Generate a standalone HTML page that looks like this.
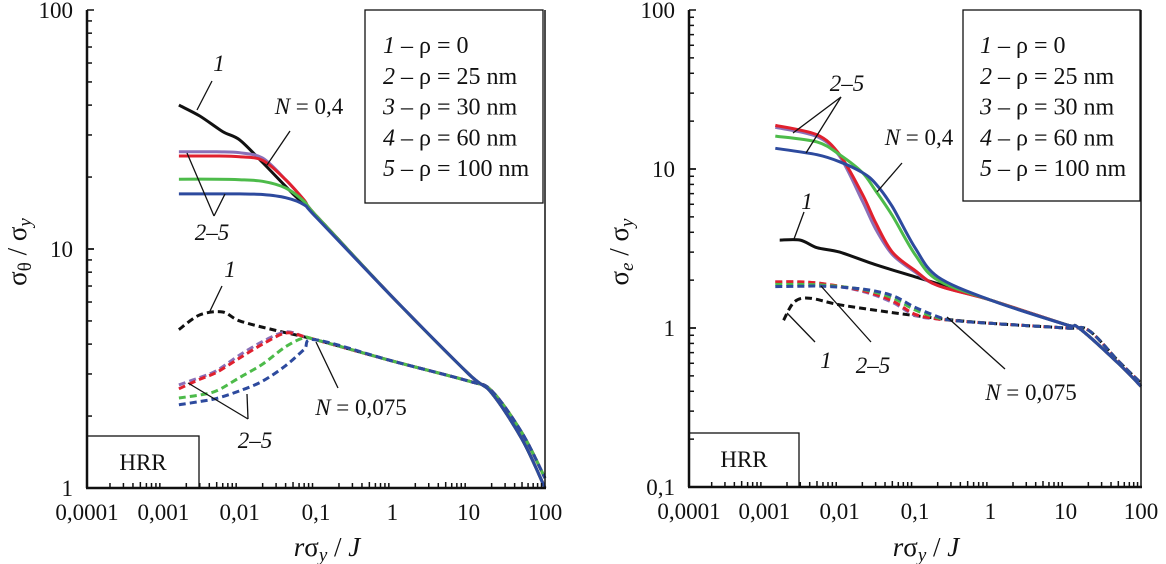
<!DOCTYPE html>
<html><head><meta charset="utf-8">
<style>
html,body{margin:0;padding:0;background:#fff;}
svg{display:block;font-family:"Liberation Serif",serif;}
</style></head>
<body>
<svg id="fig" width="1166" height="564" viewBox="0 0 1166 564" xmlns="http://www.w3.org/2000/svg"></svg>
<script>
// ---------- data: left chart (sigma_theta / sigma_y) ----------
const L_x_solid1 = [0.0016, 0.003, 0.006, 0.01, 0.02, 0.05, 0.1, 1, 10, 20, 50, 100];
const L_y_solid1 = [40, 36, 31, 28.6, 23, 17, 13.8, 6.3, 3.0, 2.5, 1.6, 1.0];
const L_x_solidC = [0.0016, 0.005, 0.01, 0.02, 0.04, 0.07, 0.1, 1, 10, 20, 50, 100];
const L_y_solid2 = [25.5, 25.5, 25.3, 24, 19.5, 16, 13.8, 6.3, 3.0, 2.5, 1.6, 1.0];
const L_y_solid3 = [24.5, 24.5, 24.3, 23.5, 19.5, 16, 13.8, 6.3, 3.0, 2.5, 1.6, 1.0];
const L_y_solid4 = [19.6, 19.6, 19.5, 19.2, 18, 15.8, 13.8, 6.3, 3.0, 2.5, 1.6, 1.0];
const L_y_solid5 = [17, 17, 17, 16.9, 16.4, 15.3, 13.6, 6.3, 3.0, 2.5, 1.6, 1.0];
const L_x_dash1 = [0.0016, 0.003, 0.006, 0.01, 0.03, 0.1, 1, 10, 20, 50, 100];
const L_y_dash1 = [4.6, 5.3, 5.45, 5.0, 4.56, 4.17, 3.4, 2.8, 2.55, 1.7, 1.1];
const L_x_dashC = [0.0016, 0.003, 0.005, 0.01, 0.02, 0.04, 0.07, 0.1, 1, 10, 20, 50, 100];
const L_y_dash2 = [2.7, 2.9, 3.1, 3.6, 4.1, 4.5, 4.3, 4.17, 3.4, 2.8, 2.55, 1.7, 1.1];
const L_y_dash3 = [2.6, 2.85, 3.05, 3.5, 4.0, 4.45, 4.3, 4.17, 3.4, 2.8, 2.55, 1.7, 1.1];
const L_y_dash4 = [2.38, 2.45, 2.55, 2.9, 3.3, 3.9, 4.25, 4.17, 3.4, 2.8, 2.55, 1.7, 1.1];
const L_y_dash5 = [2.23, 2.3, 2.37, 2.55, 2.8, 3.25, 3.8, 4.17, 3.4, 2.8, 2.55, 1.7, 1.1];
// ---------- data: right chart (sigma_e / sigma_y) ----------
const R_x_solid1 = [0.0016, 0.003, 0.005, 0.01, 0.03, 0.1, 0.2, 1, 10, 15, 50, 100];
const R_y_solid1 = [3.57, 3.57, 3.2, 3.0, 2.5, 2.1, 1.9, 1.5, 1.05, 1.0, 0.6, 0.43];
const R_x_solidC = [0.0014, 0.005, 0.01, 0.02, 0.03, 0.05, 0.1, 0.2, 1, 10, 15, 50, 100];
const R_y_solid2 = [18.3, 16, 12, 6.3, 4.2, 2.9, 2.25, 1.85, 1.5, 1.05, 1.0, 0.6, 0.43];
const R_y_solid3 = [18.8, 16.4, 12.3, 6.95, 4.6, 3.0, 2.3, 1.85, 1.5, 1.05, 1.0, 0.6, 0.43];
const R_y_solid4 = [16.1, 14.8, 12.3, 9.5, 7.3, 5.1, 2.9, 2.0, 1.5, 1.05, 1.0, 0.6, 0.43];
const R_y_solid5 = [13.5, 12.3, 11.1, 9.5, 8.1, 5.8, 3.2, 2.1, 1.5, 1.05, 1.0, 0.6, 0.43];
const R_x_dash1 = [0.0018, 0.0025, 0.004, 0.01, 0.05, 0.2, 1, 10, 20, 50, 100];
const R_y_dash1 = [1.12, 1.46, 1.54, 1.4, 1.25, 1.15, 1.07, 1.0, 0.97, 0.62, 0.45];
const R_x_dashC = [0.0014, 0.003, 0.006, 0.02, 0.05, 0.1, 0.2, 0.3, 1, 10, 20, 50, 100];
const R_y_dash2 = [1.95, 1.95, 1.9, 1.7, 1.45, 1.2, 1.14, 1.12, 1.07, 1.0, 0.97, 0.62, 0.45];
const R_y_dash3 = [1.95, 1.95, 1.9, 1.72, 1.48, 1.22, 1.14, 1.12, 1.07, 1.0, 0.97, 0.62, 0.45];
const R_y_dash4 = [1.88, 1.88, 1.86, 1.75, 1.55, 1.3, 1.16, 1.12, 1.07, 1.0, 0.97, 0.62, 0.45];
const R_y_dash5 = [1.82, 1.83, 1.83, 1.76, 1.6, 1.35, 1.18, 1.12, 1.07, 1.0, 0.97, 0.62, 0.45];
// ---------- ticks / labels ----------
const xTickVals = [0.0001, 0.001, 0.01, 0.1, 1, 10, 100];
const xTickLabels = ["0,0001", "0,001", "0,01", "0,1", "1", "10", "100"];
const L_yTickVals = [1, 10, 100];
const L_yTickLabels = ["1", "10", "100"];
const R_yTickVals = [0.1, 1, 10, 100];
const R_yTickLabels = ["0,1", "1", "10", "100"];
const legendNums = ["1", "2", "3", "4", "5"];
const legendTexts = [" – ρ = 0", " – ρ = 25 nm", " – ρ = 30 nm", " – ρ = 60 nm", " – ρ = 100 nm"];

const C = {k:"#111111", r:"#e0202e", g:"#4dbb4a", b:"#2d4a9e", p:"#8a70b8"};
const FS = 23;
const NS = "http://www.w3.org/2000/svg";
const svg = document.getElementById('fig');
function mk(tag, attrs, parent){
  const e = document.createElementNS(NS, tag);
  for (const k in attrs) e.setAttribute(k, attrs[k]);
  (parent||svg).appendChild(e);
  return e;
}
function makeAxes(x0, x1, xmin, xmax, yTop, yBot, ymin, ymax){
  const lx0=Math.log10(xmin), lx1=Math.log10(xmax), ly0=Math.log10(ymin), ly1=Math.log10(ymax);
  return {
    X: v => x0 + (Math.log10(v)-lx0)/(lx1-lx0)*(x1-x0),
    Y: v => yBot - (Math.log10(v)-ly0)/(ly1-ly0)*(yBot-yTop)
  };
}
function path(g, ax, xs, ys, color, dashed, name){
  const P = xs.map((x,i)=>[ax.X(x), ax.Y(ys[i])]);
  let d = "M" + P[0][0].toFixed(1) + "," + P[0][1].toFixed(1);
  for (let i=0;i<P.length-1;i++){
    const p0 = P[Math.max(0,i-1)], p1 = P[i], p2 = P[i+1], p3 = P[Math.min(P.length-1,i+2)];
    const t = 0.16;
    const c1 = [p1[0]+(p2[0]-p0[0])*t, p1[1]+(p2[1]-p0[1])*t];
    const c2 = [p2[0]-(p3[0]-p1[0])*t, p2[1]-(p3[1]-p1[1])*t];
    d += "C"+c1[0].toFixed(1)+","+c1[1].toFixed(1)+" "+c2[0].toFixed(1)+","+c2[1].toFixed(1)+" "+p2[0].toFixed(1)+","+p2[1].toFixed(1);
  }
  const p = mk('path', {d:d, fill:"none", stroke:color, "stroke-width":3, "stroke-linejoin":"round", "stroke-linecap":"butt"}, g);
  if (dashed) p.setAttribute('stroke-dasharray', '7,4');
  
  
}
function text(g, x, y, s, opts){
  const t = mk('text', Object.assign({x:x, y:y, "font-size":FS, fill:"#111"}, opts||{}), g);
  t.textContent = s;
  return t;
}
function line(g, x1,y1,x2,y2, w){
  mk('line', {x1:x1,y1:y1,x2:x2,y2:y2, stroke:"#111", "stroke-width":w||1.3}, g);
}

function drawChart(cfg){
  const g = mk('g', {});
  
  
  const ax = makeAxes(cfg.x0, cfg.x1, 0.0001, 100, cfg.yTop, cfg.yBot, cfg.ymin, cfg.ymax);
  cfg.series.forEach(s => path(g, ax, s[0], s[1], s[2], s[3], s[4]));
  line(g, cfg.x0, cfg.yTop, cfg.x0, cfg.yBot, 2.5);
  line(g, cfg.x0-1, cfg.yBot, cfg.x1+1, cfg.yBot, 2.5);
  line(g, cfg.x1, cfg.yTop, cfg.x1, cfg.yBot, 1.5);
  for (let e=-4;e<=2;e++){
    for (let m=1;m<10;m++){
      const v = m*Math.pow(10,e); if (v>100) break;
      const x = ax.X(v), len = m===1?0:(m===5?6:5);
      if (len) line(g, x, cfg.yBot, x, cfg.yBot-len, 1.5);
    }
  }
  xTickVals.forEach((v,i)=>{
    const t = text(g, ax.X(v), cfg.yBot+32, xTickLabels[i], {"text-anchor":"middle"});
    
    
  });
  for (let e=Math.round(Math.log10(cfg.ymin)); e<Math.round(Math.log10(cfg.ymax)); e++){
    for (let m=1;m<=10;m++){
      const v = m*Math.pow(10,e), y = ax.Y(v);
      line(g, cfg.x0, y, cfg.x0+(m===1||m===10?7:5), y, 1.5);
    }
  }
  cfg.yTickVals.forEach((v,i)=>{
    const t = text(g, cfg.x0-14, ax.Y(v)+8, cfg.yTickLabels[i], {"text-anchor":"end"});
    
    
  });
  const lb = mk('rect', {x:cfg.lg[0], y:cfg.lg[1], width:cfg.lg[2]-cfg.lg[0], height:cfg.lg[3]-cfg.lg[1], fill:"#fff", stroke:"#111", "stroke-width":1.3}, g);
  
  
  legendNums.forEach((n,i)=>{
    const t = mk('text', {x:cfg.lgTextX, y:53+i*30.8, "font-size":FS+1, fill:"#111"}, g);
    
    
    const a = mk('tspan', {"font-style":"italic"}, t); a.textContent = n;
    const b = mk('tspan', {}, t); b.textContent = legendTexts[i];
  });
  mk('rect', {x:cfg.x0, y:cfg.hrr[1], width:cfg.hrr[0]-cfg.x0, height:cfg.yBot-cfg.hrr[1], fill:"none", stroke:"#111", "stroke-width":1.3}, g);
  const h = text(g, (cfg.x0+cfg.hrr[0])/2, cfg.hrr[1]+34, "HRR", {"text-anchor":"middle"});
  
  
  cfg.ann.forEach(a=>{
    const t = mk('text', {x:a[0], y:a[1], "font-size":FS, fill:"#111", "text-anchor":"middle"}, g);
    
    
    if (a[2].startsWith("N")){
      const s1 = mk('tspan', {"font-style":"italic"}, t); s1.textContent = "N";
      const s2 = mk('tspan', {}, t); s2.textContent = a[2].slice(1);
    } else { mk('tspan', {"font-style":"italic"}, t).textContent = a[2]; }
    a[3].forEach(l => line(g, l[0], l[1], l[2], l[3], 1.3));
  });
  const xt = mk('text', {x:cfg.xTitleX, y:556, "font-size":27, fill:"#111", "text-anchor":"middle"}, g);
  
  
  mk('tspan', {"font-style":"italic"}, xt).textContent = "r";
  mk('tspan', {}, xt).textContent = "σ";
  mk('tspan', {"font-style":"italic", "font-size":19, dy:5}, xt).textContent = "y";
  mk('tspan', {dy:-5}, xt).textContent = " / ";
  mk('tspan', {"font-style":"italic"}, xt).textContent = "J";
  const yt = mk('text', {x:0, y:0, "font-size":27, fill:"#111", "text-anchor":"middle", transform:`translate(${cfg.yTitleX},252) rotate(-90)`}, g);
  
  
  mk('tspan', {}, yt).textContent = "σ";
  mk('tspan', {"font-size":19, dy:5, "font-style":cfg.ySubItalic?"italic":"normal"}, yt).textContent = cfg.ySub;
  mk('tspan', {dy:-5}, yt).textContent = " / σ";
  mk('tspan', {"font-style":"italic", "font-size":19, dy:5}, yt).textContent = "y";
}

drawChart({
  name:"left-chart", x0:87, x1:545, yTop:10, yBot:488, ymin:1, ymax:100,
  yTickVals:L_yTickVals, yTickLabels:L_yTickLabels,
  lg:[365,10,543,203], lgTextX:383, hrr:[199,436],
  xTitleX:327, yTitleX:26, ySub:"θ", ySubItalic:false,
  series:[
    [L_x_dash1,L_y_dash1,C.k,true,"series-1-n0075"],
    [L_x_dashC,L_y_dash2,C.p,true,"series-2-n0075"],
    [L_x_dashC,L_y_dash3,C.r,true,"series-3-n0075"],
    [L_x_dashC,L_y_dash4,C.g,true,"series-4-n0075"],
    [L_x_dashC,L_y_dash5,C.b,true,"series-5-n0075"],
    [L_x_solid1,L_y_solid1,C.k,false,"series-1-n04"],
    [L_x_solidC,L_y_solid2,C.p,false,"series-2-n04"],
    [L_x_solidC,L_y_solid3,C.r,false,"series-3-n04"],
    [L_x_solidC,L_y_solid4,C.g,false,"series-4-n04"],
    [L_x_solidC,L_y_solid5,C.b,false,"series-5-n04"]
  ],
  ann:[
    [219,71,"1",[[212,81,197,110]]],
    [309,114,"N = 0,4",[[290,131,267,165]]],
    [212,240,"2–5",[[214,216,187,153],[214,216,225,194]]],
    [230,277,"1",[[222,286,210,311]]],
    [361,415,"N = 0,075",[[338,388,316,342]]],
    [255,448,"2–5",[[248,419,188,383],[248,419,247,394]]]
  ]
});
drawChart({
  name:"right-chart", x0:689, x1:1141, yTop:10, yBot:487, ymin:0.1, ymax:100,
  yTickVals:R_yTickVals, yTickLabels:R_yTickLabels,
  lg:[963,10,1140,201], lgTextX:980, hrr:[799,433],
  xTitleX:926, yTitleX:628, ySub:"e", ySubItalic:true,
  series:[
    [R_x_dash1,R_y_dash1,C.k,true,"series-1-n0075"],
    [R_x_dashC,R_y_dash2,C.p,true,"series-2-n0075"],
    [R_x_dashC,R_y_dash3,C.r,true,"series-3-n0075"],
    [R_x_dashC,R_y_dash4,C.g,true,"series-4-n0075"],
    [R_x_dashC,R_y_dash5,C.b,true,"series-5-n0075"],
    [R_x_solid1,R_y_solid1,C.k,false,"series-1-n04"],
    [R_x_solidC,R_y_solid2,C.p,false,"series-2-n04"],
    [R_x_solidC,R_y_solid3,C.r,false,"series-3-n04"],
    [R_x_solidC,R_y_solid4,C.g,false,"series-4-n04"],
    [R_x_solidC,R_y_solid5,C.b,false,"series-5-n04"]
  ],
  ann:[
    [847,91,"2–5",[[841,97,793,133],[841,97,806,153]]],
    [919,145,"N = 0,4",[[902,163,877,192]]],
    [807,209,"1",[[804,212,794,239]]],
    [826,368,"1",[[815,342,787,313]]],
    [873,373,"2–5",[[871,342,821,286]]],
    [1031,400,"N = 0,075",[[1005,369,947,317]]]
  ]
});
</script>
</body></html>
